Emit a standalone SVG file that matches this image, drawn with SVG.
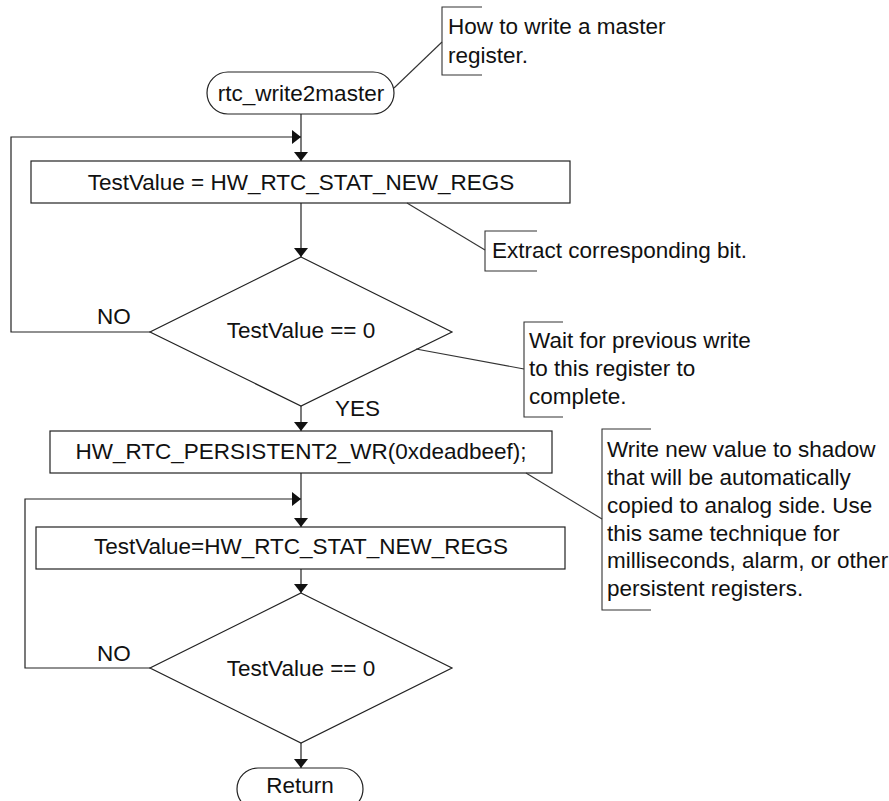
<svg xmlns="http://www.w3.org/2000/svg" width="889" height="801" viewBox="0 0 889 801">
<style>
  .shape { fill: #fff; stroke: #222; stroke-width: 1.2; }
  .line { fill: none; stroke: #222; stroke-width: 1.2; }
  .note { fill: none; stroke: #333; stroke-width: 1.1; }
  text { font-family: "Liberation Sans", Arial, sans-serif; font-size: 22.5px; fill: #111; }
  .c { text-anchor: middle; }
</style>
<defs>
  <marker id="arr" viewBox="0 0 9 14" refX="9" refY="7" markerWidth="9" markerHeight="14" markerUnits="userSpaceOnUse" orient="auto">
    <path d="M0,0 L9,7 L0,14 Z" fill="#111"/>
  </marker>
</defs>
<rect width="889" height="801" fill="#fff"/>

<g id="connectors">
  <line class="line" x1="301" y1="114" x2="301" y2="161" marker-end="url(#arr)"/>
  <polyline class="line" points="150,332 11,332 11,137 301,137" marker-end="url(#arr)"/>
  <line class="line" x1="301" y1="203" x2="301" y2="257" marker-end="url(#arr)"/>
  <line class="line" x1="301" y1="406" x2="301" y2="431" marker-end="url(#arr)"/>
  <line class="line" x1="301" y1="473" x2="301" y2="527" marker-end="url(#arr)"/>
  <polyline class="line" points="150,668 25,668 25,499 301,499" marker-end="url(#arr)"/>
  <line class="line" x1="301" y1="569" x2="301" y2="593" marker-end="url(#arr)"/>
  <line class="line" x1="301" y1="743" x2="301" y2="768" marker-end="url(#arr)"/>
  <text x="97" y="324">NO</text>
  <text x="335" y="416">YES</text>
  <text x="97" y="661">NO</text>
</g>

<g id="start">
  <rect class="shape" x="207" y="72" width="187" height="42" rx="21" ry="21"/>
  <text class="c" x="301" y="101">rtc_write2master</text>
</g>

<g id="box1">
  <rect class="shape" x="31" y="161" width="539" height="42"/>
  <text class="c" x="301" y="190">TestValue = HW_RTC_STAT_NEW_REGS</text>
</g>

<g id="decision1">
  <polygon class="shape" points="301,257 452,332 301,406 150,332"/>
  <text class="c" x="301" y="338">TestValue == 0</text>
</g>

<g id="box2">
  <rect class="shape" x="50" y="431" width="502" height="42"/>
  <text class="c" x="301" y="459">HW_RTC_PERSISTENT2_WR(0xdeadbeef);</text>
</g>

<g id="box3">
  <rect class="shape" x="36" y="527" width="529" height="42"/>
  <text class="c" x="301" y="554">TestValue=HW_RTC_STAT_NEW_REGS</text>
</g>

<g id="decision2">
  <polygon class="shape" points="301,593 452,668 301,743 150,668"/>
  <text class="c" x="301" y="676">TestValue == 0</text>
</g>

<g id="end">
  <rect class="shape" x="237" y="768" width="126" height="42" rx="21" ry="21"/>
  <text class="c" x="300" y="793">Return</text>
</g>

<g id="note1">
  <line class="note" x1="394" y1="88" x2="442" y2="42"/>
  <polyline class="note" points="482,7 442,7 442,75 482,75"/>
  <text x="448" y="34">How to write a master</text>
  <text x="448" y="63">register.</text>
</g>

<g id="note2">
  <line class="note" x1="407" y1="203" x2="485" y2="250"/>
  <polyline class="note" points="537,231 485,231 485,271 537,271"/>
  <text x="492" y="258">Extract corresponding bit.</text>
</g>

<g id="note3">
  <line class="note" x1="416" y1="349" x2="524" y2="369"/>
  <polyline class="note" points="563,322 524,322 524,417 563,417"/>
  <text x="529" y="348">Wait for previous write</text>
  <text x="529" y="376">to this register to</text>
  <text x="529" y="404">complete.</text>
</g>

<g id="note4">
  <line class="note" x1="526" y1="473" x2="602" y2="519"/>
  <polyline class="note" points="651,429 602,429 602,610 651,610"/>
  <text x="607" y="457">Write new value to shadow</text>
  <text x="607" y="485">that will be automatically</text>
  <text x="607" y="513">copied to analog side. Use</text>
  <text x="607" y="541">this same technique for</text>
  <text x="607" y="568">milliseconds, alarm, or other</text>
  <text x="607" y="596">persistent registers.</text>
</g>
</svg>
